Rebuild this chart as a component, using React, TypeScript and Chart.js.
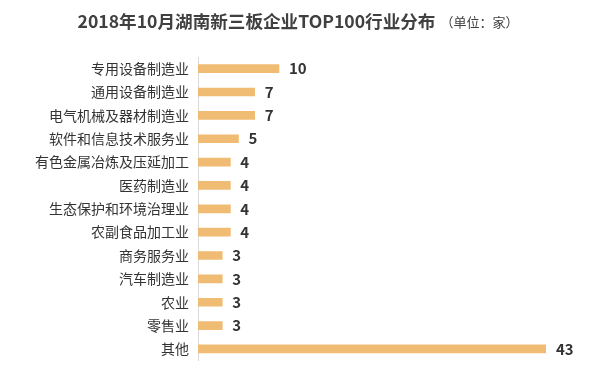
import React, { useEffect, useRef } from "react";
import { Chart, registerables } from "chart.js";

Chart.register(...registerables);

const titleText = "2018年10月湖南新三板企业TOP100行业分布";
const unitText = "（单位：家）";
const categories = [
  "专用设备制造业",
  "通用设备制造业",
  "电气机械及器材制造业",
  "软件和信息技术服务业",
  "有色金属冶炼及压延加工",
  "医药制造业",
  "生态保护和环境治理业",
  "农副食品加工业",
  "商务服务业",
  "汽车制造业",
  "农业",
  "零售业",
  "其他",
];
const values = [10, 7, 7, 5, 4, 4, 4, 4, 3, 3, 3, 3, 43];

const FONT = "'Noto Sans CJK SC', 'Noto Sans', sans-serif";

export default function App() {
  const ref = useRef<HTMLCanvasElement | null>(null);
  useEffect(() => {
    document.body.style.margin = "0";
    const canvas = ref.current!;
    const titlePlugin = {
      id: "titlePlugin",
      afterDraw(chart: any) {
        const ctx = chart.ctx;
        ctx.save();
        ctx.fillStyle = "#404040";
        ctx.textBaseline = "middle";
        ctx.font = `bold 17.6px ${FONT}`;
        const w1 = ctx.measureText(titleText).width;
        ctx.font = `13px ${FONT}`;
        const w2 = ctx.measureText(unitText).width;
        const total = w1 + 5 + w2;
        const x0 = 298 - total / 2;
        ctx.font = `bold 17.6px ${FONT}`;
        ctx.textAlign = "left";
        ctx.fillText(titleText, x0, 21);
        ctx.font = `13px ${FONT}`;
        ctx.fillText(unitText, x0 + w1 + 5, 22);
        ctx.restore();
      },
    };
    const labelPlugin = {
      id: "valueLabels",
      afterDatasetsDraw(chart: any) {
        const ctx = chart.ctx;
        const meta = chart.getDatasetMeta(0);
        ctx.save();
        ctx.fillStyle = "#333333";
        ctx.font = `bold 15px ${FONT}`;
        ctx.textAlign = "left";
        ctx.textBaseline = "middle";
        meta.data.forEach((bar: any, i: number) => {
          ctx.fillText(String(values[i]), bar.x + 10, bar.y);
        });
        ctx.restore();
      },
    };
    const chart = new Chart(canvas, {
      type: "bar",
      data: {
        labels: categories,
        datasets: [
          {
            data: values,
            backgroundColor: "#F0BB72",
            barThickness: 8,
          },
        ],
      },
      options: {
        indexAxis: "y",
        animation: false,
        responsive: false,
        layout: { padding: { top: 57, bottom: 14, right: 59, left: 0 } },
        plugins: { legend: { display: false }, tooltip: { enabled: false } },
        scales: {
          x: { display: false, min: 0, max: 43 },
          y: {
            afterFit(scale: any) {
              scale.width = 198;
            },
            grid: { display: false, drawTicks: false },
            border: { display: true, color: "#d9d9d9" },
            ticks: {
              color: "#333333",
              font: { family: FONT, size: 14 },
              padding: 9,
              autoSkip: false,
            },
          },
        },
      },
      plugins: [titlePlugin, labelPlugin],
    });
    return () => chart.destroy();
  }, []);
  return (
    <div style={{ width: 605, height: 378, background: "#fff" }}>
      <canvas ref={ref} width={605} height={378} />
    </div>
  );
}
